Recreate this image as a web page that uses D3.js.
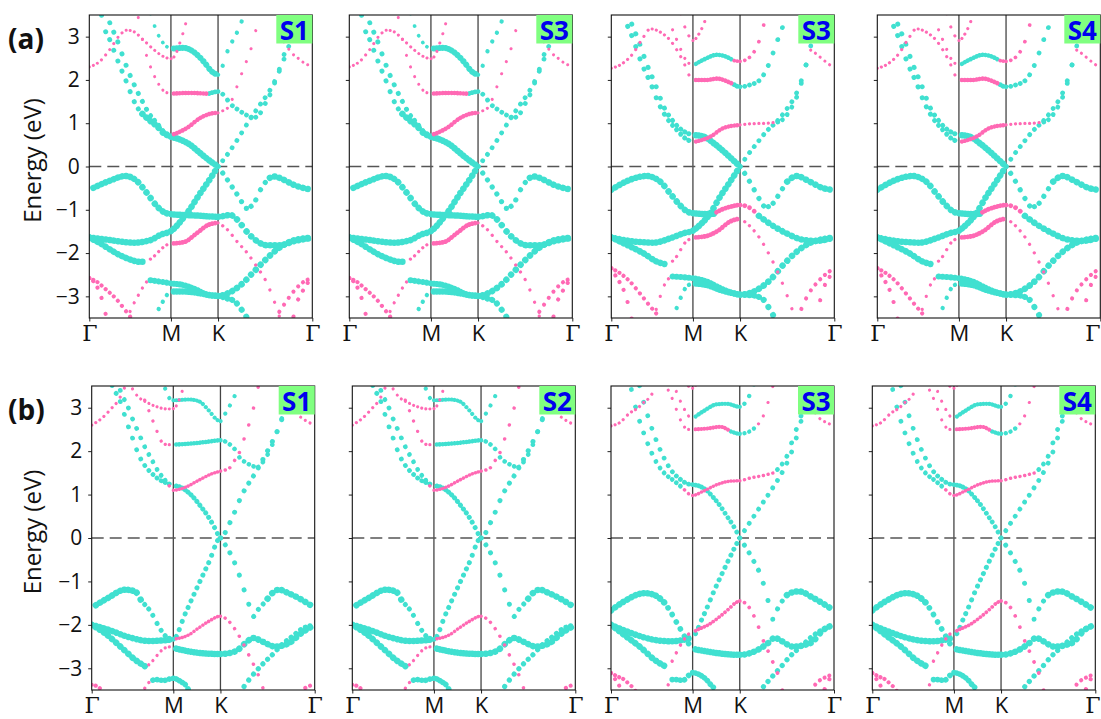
<!DOCTYPE html>
<html>
<head>
<meta charset="utf-8">
<script src="https://cdn.jsdelivr.net/npm/d3@7"></script>
<style>
  body { margin: 0; background: #fff; }
  svg { display: block; }
</style>
</head>
<body>
<svg id="fig" width="1101" height="719"></svg>
<script>
// ---- path, axis labels ----
const kLabels = ["Γ", "M", "K", "Γ"];
const kNodes = [0, 1, 2, 3];             // Γ, M, K, Γ in path units
const kSegmentSteps = [20, 16, 20];       // k-points per segment
const energyTicks = [-3, -2, -1, 0, 1, 2, 3];
const energyRange = [-3.5, 3.5];
const rowTags = ["(a)", "(b)"];
const panelTags = [["S1", "S3", "S3", "S4"], ["S1", "S2", "S3", "S4"]];
const orbitalColors = ["#40e0d0", "#ff69b4"];

// bands: [orbital, projected weight, [[k, E], ...]]
const bandsA = [
  [0, 1.0, [[0,-0.54],[0.25,-0.33],[0.44,-0.22],[0.58,-0.33],[0.7,-0.6],[0.83,-0.92],[0.92,-1.06],[1,-1.1],[1.5,-1.13],[2,-1.16],[2.13,-1.12],[2.2,-1.22],[2.31,-1.52],[2.41,-1.72],[2.52,-1.82],[2.66,-1.82],[2.8,-1.73],[3,-1.65]]],
  [0, 1.0, [[0,-1.64],[0.25,-1.7],[0.54,-1.76],[0.75,-1.7],[0.87,-1.58],[1,-1.49],[1.34,-1.08],[1.62,-0.62],[1.84,-0.27],[2,0]]],
  [0, 0.6, [[2,0],[2.1,0.28],[2.2,0.6],[2.31,0.99],[2.43,1.38],[2.55,1.76],[2.64,2.15],[2.72,2.6],[2.8,3.1],[2.86,3.6]]],
  [1, 0.2, [[0.59,3.55],[0.66,2.85],[0.75,2.3],[0.83,1.97],[0.91,1.75],[1,1.68]]],
  [1, 0.55, [[1,1.68],[1.4,1.7],[1.8,1.68]]],
  [0, 0.6, [[1.8,1.68],[2,1.73],[2.06,1.65],[2.13,1.45],[2.22,1.3],[2.31,1.18],[2.38,1.13],[2.45,1.24],[2.5,1.45],[2.56,1.7],[2.62,2.05],[2.68,2.45],[2.75,2.95],[2.81,3.6]]],
  [0, 0.35, [[0.74,3.6],[0.79,3.3],[0.85,3.02],[0.92,2.82],[1,2.72]]],
  [0, 0.9, [[1,2.72],[1.27,2.74],[1.48,2.65],[1.7,2.42],[1.87,2.19],[2,2.12]]],
  [0, 0.5, [[2,2.12],[2.04,2.26],[2.07,2.49],[2.13,2.8],[2.2,3.09],[2.26,3.4],[2.3,3.6]]],
  [1, 0.2, [[0,2.3],[0.13,2.43],[0.25,2.7],[0.38,3.05],[0.46,3.15],[0.54,3.12],[0.66,2.93],[0.79,2.7],[0.91,2.54],[1,2.49],[1.09,2.57],[1.16,2.76],[1.23,3.0],[1.3,3.23],[1.36,3.6]]],
  [1, 0.2, [[2.66,3.0],[2.71,2.85],[2.77,2.65],[2.85,2.5],[2.93,2.37],[3,2.32]]],
  [0, 0.65, [[0.14,3.6],[0.17,3.3],[0.25,2.93],[0.36,2.39],[0.46,1.93],[0.54,1.54],[0.62,1.27]]],
  [0, 1.0, [[0.62,1.27],[0.73,1.08],[0.83,0.93],[0.91,0.77],[1,0.69],[1.2,0.62],[1.41,0.5],[1.62,0.31],[1.84,0.12],[2,0]]],
  [0, 0.65, [[0.21,3.6],[0.23,3.45],[0.34,2.93],[0.44,2.39],[0.54,1.93],[0.64,1.54],[0.73,1.23],[0.83,1.0],[0.91,0.81],[1,0.72]]],
  [1, 0.55, [[1,0.72],[1.34,0.89],[1.62,1.12],[1.84,1.22],[2,1.24]]],
  [1, 0.2, [[2,1.24],[2.06,1.3],[2.11,1.37],[2.15,1.55],[2.19,1.78],[2.23,2.02],[2.27,2.26],[2.31,2.48],[2.35,2.72],[2.38,2.96],[2.41,3.23],[2.45,3.6]]],
  [0, 1.0, [[0,-1.64],[0.13,-1.77],[0.3,-1.97],[0.46,-2.12],[0.62,-2.2],[0.7,-2.2]]],
  [1, 0.25, [[0.7,-2.2],[0.79,-2.08],[0.87,-1.93],[0.95,-1.81],[1,-1.78]]],
  [1, 0.6, [[1,-1.78],[1.27,-1.75],[1.55,-1.54],[1.79,-1.35],[2,-1.3]]],
  [1, 0.25, [[2,-1.3],[2.1,-1.46],[2.2,-1.73],[2.31,-2.0],[2.41,-2.31],[2.52,-2.7],[2.59,-3.08],[2.64,-3.39],[2.67,-3.6]]],
  [1, 0.25, [[0.46,-3.6],[0.5,-3.35],[0.58,-3.05],[0.66,-2.78],[0.72,-2.62]]],
  [0, 0.9, [[0.72,-2.62],[0.87,-2.66],[1,-2.7],[1.27,-2.74],[1.55,-2.85],[1.79,-2.97],[2,-2.99],[2.1,-3.05],[2.18,-3.12],[2.24,-3.28],[2.29,-3.43],[2.33,-3.6]]],
  [0, 0.5, [[0.8,-3.6],[0.83,-3.39],[0.89,-3.16],[0.95,-2.97],[1,-2.89]]],
  [0, 1.0, [[1,-2.89],[1.34,-2.89],[1.62,-2.93],[2,-2.99],[2.13,-2.9],[2.24,-2.74],[2.38,-2.43],[2.52,-2.12],[2.63,-1.91],[2.77,-1.73],[3,-1.64]]],
  [0, 0.7, [[2,0],[2.1,-0.31],[2.17,-0.54],[2.24,-0.77],[2.29,-0.97],[2.33,-0.95],[2.38,-0.85],[2.45,-0.54],[2.52,-0.31]]],
  [0, 1.0, [[2.52,-0.31],[2.59,-0.23],[2.7,-0.31],[2.8,-0.42],[3,-0.54]]],
  [1, 0.45, [[0,-2.58],[0.09,-2.66],[0.21,-2.85],[0.34,-3.08],[0.44,-3.32],[0.5,-3.47],[0.53,-3.6]]],
  [1, 0.45, [[0,-2.58],[0.07,-2.7],[0.13,-2.93],[0.19,-3.32],[0.22,-3.6]]],
  [1, 0.45, [[2.64,-3.39],[2.71,-3.16],[2.8,-2.89],[2.91,-2.66],[3,-2.58]]],
  [1, 0.45, [[2.79,-3.6],[2.82,-3.24],[2.87,-3.0],[2.94,-2.72],[3,-2.58]]]
];

const bandsB = [
  [0, 1.0, [[0,-0.54],[0.2,-0.33],[0.43,-0.22],[0.6,-0.35],[0.72,-0.62],[0.84,-0.89],[0.93,-1.04],[1,-1.08],[1.3,-1.1],[1.45,-1.09]]],
  [1, 0.6, [[1.45,-1.09],[1.6,-1.0],[1.79,-0.93],[2,-0.89],[2.1,-0.95],[2.2,-1.14]]],
  [0, 1.0, [[2.2,-1.14],[2.3,-1.3],[2.49,-1.54],[2.64,-1.68],[2.8,-1.72],[3,-1.64]]],
  [0, 1.0, [[0,-1.64],[0.27,-1.73],[0.52,-1.76],[0.72,-1.66],[0.89,-1.54],[1,-1.48],[1.15,-1.35],[1.37,-1.08],[1.58,-0.69],[1.79,-0.35],[2,0]]],
  [0, 0.6, [[2,0],[2.07,0.23],[2.18,0.54],[2.28,0.81],[2.39,1.04],[2.49,1.31],[2.6,1.7],[2.67,2.12],[2.73,2.6],[2.78,3.1],[2.82,3.6]]],
  [1, 0.5, [[1,0.56],[1.37,0.69],[1.65,0.89],[2,0.96]]],
  [1, 0.25, [[2,0.96],[2.14,0.99],[2.28,1.0],[2.39,1.02]]],
  [0, 0.6, [[2.39,1.02],[2.46,1.1],[2.53,1.3],[2.6,1.6],[2.66,2.0],[2.71,2.45],[2.75,2.9],[2.79,3.6]]],
  [0, 0.65, [[0.15,3.6],[0.17,3.43],[0.27,2.93],[0.37,2.39],[0.48,1.93],[0.58,1.46],[0.68,1.12],[0.8,0.85],[0.9,0.66],[1,0.56]]],
  [0, 0.65, [[0.21,3.6],[0.23,3.43],[0.33,2.93],[0.43,2.39],[0.54,1.89],[0.64,1.39],[0.76,1.04],[0.89,0.81],[1,0.73]]],
  [0, 1.0, [[1,0.73],[1.23,0.69],[1.44,0.54],[1.65,0.35],[1.86,0.14],[2,0]]],
  [1, 0.22, [[0,2.27],[0.12,2.36],[0.27,2.62],[0.38,2.95],[0.48,3.18],[0.62,3.08],[0.72,2.92],[0.8,2.7],[0.89,2.39],[0.95,2.12],[1,2.0]]],
  [1, 0.55, [[1,2.0],[1.3,2.0],[1.51,2.03],[1.72,1.97],[1.86,1.9]]],
  [0, 0.6, [[1.86,1.9],[2,1.84],[2.11,1.89],[2.21,2.0],[2.28,2.24],[2.35,2.62],[2.4,2.93],[2.46,3.28],[2.5,3.6]]],
  [1, 0.22, [[2.74,2.7],[2.81,2.6],[2.88,2.47],[2.95,2.35],[3,2.27]]],
  [1, 0.22, [[0.7,3.6],[0.72,3.39],[0.82,2.85],[0.91,2.47],[1,2.33]]],
  [0, 0.55, [[1,2.33],[1.23,2.47],[1.51,2.58],[1.72,2.53],[1.86,2.45]]],
  [1, 0.35, [[1.86,2.45],[2,2.43],[2.11,2.54],[2.18,2.78],[2.23,3.08],[2.26,3.35],[2.3,3.6]]],
  [1, 0.22, [[0.84,3.6],[0.89,3.28],[0.95,3.02],[1,2.91],[1.12,3.05],[1.24,3.32],[1.3,3.5],[1.33,3.6]]],
  [0, 1.0, [[0,-1.64],[0.19,-1.81],[0.39,-2.0],[0.56,-2.2],[0.7,-2.27]]],
  [1, 0.25, [[0.7,-2.27],[0.8,-2.08],[0.9,-1.77],[1,-1.64]]],
  [1, 0.6, [[1,-1.64],[1.23,-1.62],[1.51,-1.5],[1.79,-1.27],[2,-1.2]]],
  [1, 0.25, [[2,-1.2],[2.11,-1.39],[2.21,-1.66],[2.32,-2.08],[2.42,-2.54],[2.49,-2.93],[2.56,-3.35],[2.6,-3.6]]],
  [1, 0.25, [[0.52,-3.6],[0.54,-3.39],[0.6,-3.0],[0.66,-2.7],[0.74,-2.54]]],
  [0, 0.9, [[0.74,-2.54],[0.89,-2.56],[1,-2.58],[1.3,-2.66],[1.58,-2.81],[1.86,-2.93],[2,-2.96],[2.14,-2.98],[2.25,-3.08],[2.32,-3.32],[2.35,-3.43],[2.38,-3.6]]],
  [0, 0.5, [[0.75,-3.6],[0.78,-3.39],[0.84,-3.08],[0.92,-2.78],[1,-2.7]]],
  [0, 1.0, [[1,-2.7],[1.3,-2.74],[1.58,-2.85],[1.86,-2.93],[2,-2.96],[2.18,-2.85],[2.32,-2.62],[2.46,-2.27],[2.6,-1.97],[2.74,-1.77],[3,-1.64]]],
  [0, 0.7, [[2,0],[2.07,-0.23],[2.14,-0.5],[2.21,-0.77],[2.27,-0.94],[2.35,-0.85],[2.42,-0.62],[2.49,-0.37]]],
  [0, 1.0, [[2.49,-0.37],[2.6,-0.22],[2.74,-0.35],[2.88,-0.5],[3,-0.54]]],
  [1, 0.45, [[0,-2.35],[0.11,-2.47],[0.23,-2.66],[0.35,-2.93],[0.48,-3.24],[0.56,-3.43],[0.6,-3.6]]],
  [1, 0.45, [[0,-2.35],[0.06,-2.55],[0.15,-2.85],[0.23,-3.35],[0.26,-3.6]]],
  [1, 0.45, [[2.6,-3.6],[2.64,-3.35],[2.72,-2.97],[2.81,-2.7],[2.92,-2.47],[3,-2.35]]],
  [1, 0.45, [[2.8,-3.6],[2.83,-3.28],[2.88,-2.85],[2.95,-2.55],[3,-2.35]]]
];

const bandsC = [
  [0, 1.0, [[0,-1.61],[0.2,-1.38],[0.41,-1.19],[0.53,-1.23],[0.61,-1.46]]],
  [0, 0.65, [[0.61,-1.46],[0.72,-1.69],[0.82,-2.03],[0.9,-2.25],[1,-2.33],[1.25,-1.75],[1.5,-1.15],[1.75,-0.57],[2,0],[2.06,-0.19],[2.11,-0.38],[2.18,-0.73],[2.25,-1.19],[2.3,-1.52],[2.34,-1.82],[2.4,-1.65],[2.48,-1.46]]],
  [0, 1.0, [[2.48,-1.46],[2.55,-1.27],[2.62,-1.19],[2.72,-1.27],[2.86,-1.42],[3,-1.61]]],
  [0, 1.0, [[0,-2.0],[0.2,-2.11],[0.45,-2.28],[0.7,-2.37],[0.86,-2.36],[1,-2.33]]],
  [1, 0.3, [[1,-2.33],[1.33,-2.23],[1.54,-2.07],[1.75,-1.92],[2,-1.8],[2.09,-1.92],[2.18,-2.19],[2.23,-2.38],[2.3,-2.69],[2.37,-3.0],[2.44,-3.38],[2.47,-3.6]]],
  [0, 1.0, [[0,-2.0],[0.16,-2.19],[0.37,-2.53],[0.53,-2.8],[0.67,-2.97]]],
  [1, 0.25, [[0.67,-2.97],[0.76,-2.8],[0.82,-2.66],[0.9,-2.53],[1,-2.5]]],
  [0, 1.0, [[1,-2.53],[1.33,-2.61],[1.68,-2.66],[2,-2.67],[2.16,-2.61],[2.26,-2.43],[2.35,-2.3],[2.44,-2.38],[2.58,-2.5],[2.72,-2.43],[2.86,-2.19],[3,-2.0]]],
  [0, 0.7, [[2.2,-3.6],[2.23,-3.49],[2.33,-3.19],[2.44,-2.92],[2.55,-2.69],[2.65,-2.46],[2.76,-2.27],[2.86,-2.1],[3,-2.0]]],
  [1, 0.25, [[0.62,-3.6],[0.65,-3.46],[0.72,-3.3]]],
  [0, 0.8, [[0.72,-3.3],[0.78,-3.26],[0.88,-3.28],[1,-3.23],[1.15,-3.3],[1.29,-3.43],[1.36,-3.6]]],
  [1, 0.45, [[0,-3.38],[0.08,-3.43],[0.14,-3.55],[0.16,-3.6]]],
  [1, 0.45, [[2.84,-3.6],[2.86,-3.53],[2.92,-3.43],[3,-3.38]]],
  [0, 0.6, [[0.24,3.6],[0.26,3.44],[0.33,3.25],[0.37,3.02],[0.41,2.79],[0.45,2.56],[0.51,2.25],[0.57,1.94],[0.65,1.67],[0.74,1.48],[0.84,1.33],[0.94,1.25],[1,1.21]]],
  [0, 0.65, [[1,1.21],[1.19,1.15],[1.37,1.0],[1.58,0.73],[1.76,0.46],[1.9,0.19],[2,0],[2.1,0.35],[2.23,1.0],[2.37,1.5],[2.51,2.05],[2.6,2.45],[2.67,2.85],[2.72,3.2],[2.76,3.6]]],
  [0, 0.6, [[0.33,3.6],[0.35,3.4],[0.43,3.09],[0.49,2.79],[0.57,2.44],[0.65,2.1],[0.74,1.79],[0.82,1.52],[0.9,1.33],[0.95,1.2]]],
  [1, 0.3, [[0.95,1.2],[1,1.1],[1.26,1.17],[1.54,1.33],[1.82,1.48],[2,1.54],[2.09,1.6],[2.14,1.75],[2.18,1.9],[2.23,2.1],[2.26,2.36],[2.3,2.6],[2.33,2.86],[2.37,3.13],[2.41,3.6]]],
  [1, 0.25, [[0.6,3.6],[0.63,3.29],[0.67,3.09],[0.72,2.83],[0.78,2.56],[0.82,2.36],[0.86,2.21],[0.92,2.15],[1,2.15]]],
  [0, 0.55, [[1,2.15],[1.33,2.17],[1.68,2.21],[2,2.25],[2.09,2.17],[2.16,2.02],[2.21,1.83],[2.26,1.75],[2.33,1.67],[2.39,1.63],[2.44,1.72],[2.51,1.96],[2.56,2.2],[2.61,2.5],[2.65,2.75],[2.7,3.1],[2.74,3.6]]],
  [0, 0.45, [[0.86,3.6],[0.9,3.44],[0.94,3.25],[1,3.17],[1.33,3.19],[1.54,3.15],[1.75,2.94],[1.93,2.72],[2,2.69],[2.05,2.86],[2.11,3.09],[2.16,3.32],[2.2,3.6]]],
  [1, 0.22, [[0.45,3.6],[0.56,3.27],[0.68,3.12],[0.8,3.02],[0.92,2.97],[1,2.98],[1.1,3.12],[1.18,3.35],[1.24,3.6]]],
  [1, 0.22, [[0,2.6],[0.12,2.75],[0.24,2.98],[0.33,3.18],[0.4,3.45],[0.43,3.6]]],
  [1, 0.22, [[2.72,3.3],[2.78,3.0],[2.83,2.83],[2.9,2.71],[3,2.6]]]
];

const bandsD = [
  [0, 1.0, [[0,-1.67],[0.16,-1.46],[0.41,-1.27],[0.53,-1.31],[0.66,-1.5]]],
  [0, 0.8, [[0.66,-1.5],[0.74,-1.73],[0.82,-2.0],[0.88,-2.19],[0.94,-2.4],[1,-2.55]]],
  [0, 1.0, [[1,-2.55],[1.4,-2.63],[2,-2.69],[2.16,-2.61],[2.3,-2.42],[2.37,-2.3],[2.45,-2.38],[2.56,-2.5],[2.75,-2.42],[2.89,-2.11],[3,-2.0]]],
  [0, 1.0, [[0,-2.0],[0.25,-2.19],[0.49,-2.33],[0.74,-2.38],[0.9,-2.34],[1,-2.28]]],
  [0, 0.65, [[1,-2.28],[1.08,-2.17],[1.16,-1.96],[1.3,-1.62],[1.45,-1.23],[1.59,-0.9],[1.73,-0.58],[1.87,-0.27],[2,0]]],
  [0, 1.0, [[0,-2.0],[0.16,-2.23],[0.37,-2.53],[0.53,-2.8],[0.7,-2.99]]],
  [1, 0.3, [[0.7,-2.99],[0.76,-2.8],[0.82,-2.57],[0.88,-2.38],[0.94,-2.23],[1,-2.17]]],
  [1, 0.35, [[1,-2.17],[1.11,-2.11],[1.33,-2.0],[1.54,-1.84],[1.75,-1.65],[1.93,-1.48],[2,-1.45],[2.09,-1.57],[2.16,-1.84],[2.21,-2.11],[2.26,-2.42],[2.31,-2.65],[2.37,-2.96],[2.42,-3.23],[2.45,-3.5],[2.47,-3.6]]],
  [0, 0.65, [[2,0],[2.08,-0.27],[2.15,-0.54],[2.22,-0.85],[2.29,-1.35],[2.35,-1.87],[2.39,-1.68],[2.46,-1.42]]],
  [0, 1.0, [[2.46,-1.42],[2.53,-1.27],[2.63,-1.23],[2.78,-1.38],[3,-1.67]]],
  [0, 0.7, [[2.2,-3.6],[2.23,-3.49],[2.33,-3.23],[2.44,-2.96],[2.54,-2.71],[2.65,-2.5],[2.75,-2.3],[2.86,-2.13],[3,-2.0]]],
  [1, 0.25, [[0.65,-3.6],[0.68,-3.46],[0.74,-3.26]]],
  [0, 0.8, [[0.74,-3.26],[0.8,-3.26],[0.88,-3.28],[0.96,-3.15],[1,-3.1],[1.15,-3.15],[1.29,-3.26],[1.4,-3.4],[1.47,-3.49],[1.5,-3.6]]],
  [1, 0.45, [[0,-3.11],[0.08,-3.19],[0.16,-3.26],[0.23,-3.38],[0.29,-3.49],[0.32,-3.6]]],
  [1, 0.45, [[0,-3.11],[0.05,-3.25],[0.1,-3.4],[0.13,-3.6]]],
  [1, 0.45, [[2.76,-3.6],[2.79,-3.42],[2.86,-3.26],[2.93,-3.19],[3,-3.11]]],
  [1, 0.45, [[2.88,-3.6],[2.92,-3.38],[2.96,-3.22],[3,-3.11]]],
  [0, 0.6, [[0.23,3.6],[0.25,3.42],[0.32,2.88],[0.4,2.42],[0.48,2.04],[0.56,1.73],[0.66,1.48],[0.77,1.32],[0.89,1.13]]],
  [1, 0.3, [[0.89,1.13],[0.95,1.02],[1,0.98],[1.23,1.08],[1.52,1.23],[1.8,1.31],[2,1.32],[2.11,1.38],[2.25,1.44],[2.36,1.5]]],
  [0, 0.6, [[2.36,1.5],[2.43,1.65],[2.5,1.88],[2.55,2.19],[2.6,2.5],[2.65,2.81],[2.7,3.15],[2.74,3.6]]],
  [0, 0.6, [[0.34,3.6],[0.36,3.42],[0.44,2.88],[0.52,2.42],[0.62,1.96],[0.73,1.58],[0.85,1.35],[0.95,1.24],[1,1.23],[1.13,1.2],[1.27,1.12],[1.45,0.92],[1.59,0.73],[1.73,0.5],[1.87,0.27],[2,0]]],
  [0, 0.6, [[2,0],[2.08,0.27],[2.22,0.73],[2.36,1.19],[2.46,1.55],[2.55,1.98],[2.62,2.45],[2.67,2.85],[2.72,3.25],[2.76,3.6]]],
  [1, 0.22, [[0.66,3.6],[0.68,3.5],[0.77,3.12],[0.83,2.81],[0.89,2.58],[0.95,2.5],[1,2.5]]],
  [1, 0.45, [[1,2.5],[1.3,2.52],[1.59,2.56],[1.8,2.46]]],
  [0, 0.5, [[1.8,2.46],[2,2.4],[2.11,2.46],[2.18,2.58]]],
  [1, 0.22, [[2.18,2.58],[2.25,2.81],[2.3,3.12],[2.34,3.42],[2.37,3.6]]],
  [1, 0.22, [[0.78,3.6],[0.79,3.46],[0.87,3.08],[0.95,2.81],[1,2.75]]],
  [0, 0.5, [[1,2.75],[1.23,2.92],[1.52,3.08],[1.73,3.09],[2,3.02],[2.08,3.19],[2.13,3.42],[2.16,3.6]]],
  [1, 0.22, [[0,2.58],[0.11,2.66],[0.23,2.88],[0.32,2.98],[0.4,3.12],[0.5,3.31],[0.56,3.6]]],
  [1, 0.22, [[2.72,3.2],[2.78,2.95],[2.85,2.75],[2.92,2.66],[3,2.58]]],
  [1, 0.22, [[0.9,3.6],[1,3.45],[1.1,3.6]]]
];

const panelBands = [[bandsA, bandsA, bandsB, bandsB], [bandsC, bandsC, bandsD, bandsD]];

// ---- layout ----
const rowTop = [15, 386];
const rowHeight = [303, 304];
const colLeft = [[89.3, 349.3, 611.3, 877.3], [91.7, 352.3, 611, 872.3]];
const panelWidth = 223;
const pathLengths = [1 / Math.sqrt(3), 1 / 3, 2 / 3];   // Γ-M, M-K, K-Γ
const FONT = "'Open Sans', 'Noto Sans', sans-serif";
const svgWidth = 1101;

const svg = d3.select("#fig");
const dotWidth = d3.scaleLinear().domain([0, 1]).range([2.2, 6.5]);

// Turn a band path into a row of round dots, one per k-point on the path grid.
function dotify(path, gridXs) {
  const node = path.node();
  const L = node.getTotalLength();
  const step = 0.6;
  let prevS = 0, prevX = node.getPointAtLength(0).x;
  let i = gridXs.findIndex(v => v >= prevX - 1e-6);
  const marks = [];
  if (i >= 0) {
    for (let s = step; ; s += step) {
      const ss = Math.min(s, L);
      const px = node.getPointAtLength(ss).x;
      while (i < gridXs.length && gridXs[i] <= px + 1e-6) {
        const t = px > prevX ? (gridXs[i] - prevX) / (px - prevX) : 0;
        marks.push(prevS + Math.max(0, Math.min(1, t)) * (ss - prevS));
        i++;
      }
      prevS = ss; prevX = px;
      if (ss >= L) break;
    }
  }
  if (!marks.length) { path.remove(); return; }
  const dash = [];
  marks.forEach((m, j) => {
    const gap = j < marks.length - 1 ? marks[j + 1] - m : L + 1000;
    dash.push(0.001, Math.max(gap - 0.001, 0.001));
  });
  const P = d3.sum(dash);
  path.attr("stroke-dasharray", dash.map(v => v.toFixed(3)).join(" "))
      .attr("stroke-dashoffset", (P - marks[0]).toFixed(3));
}

panelBands.forEach((row, r) => {
  row.forEach((bands, c) => {
    const w = panelWidth, h = rowHeight[r];
    const total = d3.sum(pathLengths);
    const xM = w * pathLengths[0] / total;
    const xK = w * (pathLengths[0] + pathLengths[1]) / total;
    const x = d3.scaleLinear().domain(kNodes).range([0, xM, xK, w]);
    const y = d3.scaleLinear().domain(energyRange).range([h, 0]);
    const left = colLeft[r][c];

    const g = svg.append("g").attr("transform", `translate(${left},${rowTop[r]})`);
    const clipId = `clip-${r}-${c}`;
    g.append("clipPath").attr("id", clipId)
      .append("rect").attr("width", w).attr("height", h);

    // k-point grid along the path
    const bounds = x.range();
    const gridXs = [];
    kSegmentSteps.forEach((n, s) => {
      for (let j = 0; j < n; j++) gridXs.push(bounds[s] + (bounds[s + 1] - bounds[s]) * j / n);
    });
    gridXs.push(w);

    // high-symmetry lines and Fermi level
    g.selectAll(".sym").data([1, 2]).join("line")
      .attr("x1", d => x(d)).attr("x2", d => x(d))
      .attr("y1", 0).attr("y2", h)
      .attr("stroke", "#444").attr("stroke-width", 1.3);
    g.append("line")
      .attr("x1", 0).attr("x2", w).attr("y1", y(0)).attr("y2", y(0))
      .attr("stroke", "#555").attr("stroke-width", 1.5)
      .attr("stroke-dasharray", "12 6");

    // fat bands
    const line = d3.line().x(d => x(d[0])).y(d => y(d[1])).curve(d3.curveMonotoneX);
    const layer = g.append("g").attr("clip-path", `url(#${clipId})`);
    [0, 1].forEach(orb => {
      bands.filter(b => b[0] === orb).forEach(b => {
        const p = layer.append("path")
          .attr("d", line(b[2]))
          .attr("fill", "none")
          .attr("stroke", orbitalColors[orb])
          .attr("stroke-width", dotWidth(b[1]))
          .attr("stroke-linecap", "round");
        dotify(p, gridXs);
      });
    });

    // axes
    const yAxis = d3.axisLeft(y).tickValues(energyTicks).tickSize(3.5).tickPadding(6)
      .tickFormat(c === 0 ? (d => d < 0 ? "\u2212" + Math.abs(d) : String(d)) : "");
    const ya = g.append("g").call(yAxis);
    ya.select(".domain").remove();
    ya.selectAll("line").attr("stroke", "#222").attr("stroke-width", 1);
    ya.selectAll("text").attr("font-family", FONT).attr("font-size", 21).attr("fill", "#111");

    const xAxis = d3.axisBottom(x).tickValues(kNodes).tickSize(3.5).tickPadding(3.5)
      .tickFormat((d, i) => kLabels[i]);
    const xa = g.append("g").attr("transform", `translate(0,${h})`).call(xAxis);
    xa.select(".domain").remove();
    xa.selectAll("line").attr("stroke", "#222").attr("stroke-width", 1);
    xa.selectAll("text")
      .attr("font-family", d => kLabels[d] === "Γ" ? "'DejaVu Serif', serif" : FONT)
      .attr("font-size", 22).attr("fill", "#111");
    // keep the last path label inside the figure
    xa.selectAll("text").each(function () {
      const bb = this.getBBox();
      const over = left + x(3) + bb.x + bb.width - (svgWidth - 1);
      if (this.textContent && over > 0 && +d3.select(this.parentNode).datum() === 3) {
        d3.select(this).attr("dx", -over);
      }
    });

    // frame
    g.append("rect").attr("width", w).attr("height", h)
      .attr("fill", "none").attr("stroke", "#111").attr("stroke-width", 1.1);

    // structure tag
    const tw = 36, th = 28.5;
    g.append("rect").attr("x", w - tw).attr("y", 0).attr("width", tw).attr("height", th)
      .attr("fill", "#80ff80");
    g.append("text").attr("x", w - tw / 2).attr("y", th / 2 + 1)
      .attr("text-anchor", "middle").attr("dominant-baseline", "central")
      .attr("font-family", FONT).attr("font-weight", "bold").attr("font-size", 26)
      .attr("fill", "#0000ee").text(panelTags[r][c]);

    if (c === 0) {
      g.append("text")
        .attr("transform", `translate(${41 - left},${h / 2 - 6}) rotate(-90)`)
        .attr("text-anchor", "middle")
        .attr("font-family", FONT).attr("font-size", 24).attr("fill", "#111")
        .text("Energy (eV)");
    }
  });
});

// row tags
rowTags.forEach((t, r) => {
  svg.append("text").attr("x", 8).attr("y", rowTop[r] + 34)
    .attr("font-family", FONT).attr("font-weight", "bold").attr("font-size", 28)
    .attr("fill", "#111").text(t);
});
</script>
</body>
</html>
